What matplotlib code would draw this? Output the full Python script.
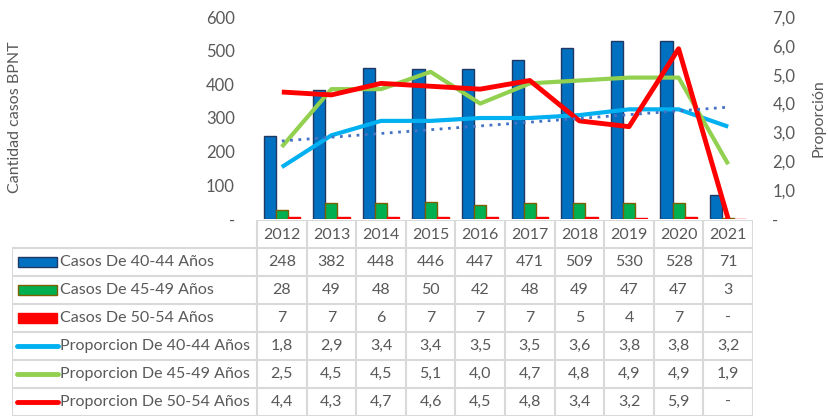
import numpy as np
import matplotlib
matplotlib.use("Agg")
import matplotlib.pyplot as plt
from matplotlib.patches import Rectangle
from matplotlib.lines import Line2D

years = ["2012", "2013", "2014", "2015", "2016", "2017", "2018", "2019", "2020", "2021"]
casos_40_44 = [248, 382, 448, 446, 447, 471, 509, 530, 528, 71]
casos_45_49 = [28, 49, 48, 50, 42, 48, 49, 47, 47, 3]
casos_50_54 = [7, 7, 6, 7, 7, 7, 5, 4, 7, 0]
prop_40_44 = [1.8, 2.9, 3.4, 3.4, 3.5, 3.5, 3.6, 3.8, 3.8, 3.2]
prop_45_49 = [2.5, 4.5, 4.5, 5.1, 4.0, 4.7, 4.8, 4.9, 4.9, 1.9]
prop_50_54 = [4.4, 4.3, 4.7, 4.6, 4.5, 4.8, 3.4, 3.2, 5.9, 0.0]

bar_labels = ["Casos De 40-44 Años", "Casos De 45-49 Años", "Casos De 50-54 Años"]
line_labels = ["Proporcion De 40-44 Años", "Proporcion De 45-49 Años", "Proporcion De 50-54 Años"]

plt.rcParams["font.family"] = ["Lato", "DejaVu Sans"]
txt = "#595959"
grid = "#D9D9D9"

bar_colors = ["#0070C0", "#00B050", "#FF0000"]
bar_edges = ["#1F3864", "#7F6000", "#FF0000"]
line_colors = ["#00B0F0", "#92D050", "#FF0000"]
line_widths = [3, 3, 3.5]

W, H = 829, 417
fig = plt.figure(figsize=(W / 100, H / 100), dpi=100)

x0, x1 = 257, 753
ytop, ybot = 17, 219
ax = fig.add_axes([x0 / W, (H - ybot) / H, (x1 - x0) / W, (ybot - ytop) / H])
ax2 = ax.twinx()

x = np.arange(len(years))
bw = 0.245
for i, (vals, c, e) in enumerate(zip([casos_40_44, casos_45_49, casos_50_54], bar_colors, bar_edges)):
    ax.bar(x + (i - 1) * bw, vals, bw, color=c, edgecolor=e, linewidth=1, zorder=2)

for vals, c, lw in zip([prop_40_44, prop_45_49, prop_50_54], line_colors, line_widths):
    ax2.plot(x, vals, color=c, lw=lw, solid_capstyle="butt", zorder=3)

# linear trend of Proporcion 40-44
coef = np.polyfit(x, prop_40_44, 1)
ax2.plot(x, np.polyval(coef, x), color="#4472C4", lw=2, linestyle=(0, (1, 2)), zorder=3)

ax.set_xlim(-0.5, len(years) - 0.5)
ax.set_ylim(0, 600)
ax2.set_ylim(0, 7)
ax.set_xticks([])
ax.set_yticks(range(0, 601, 100))
ax.set_yticklabels(["-" if v == 0 else str(v) for v in range(0, 601, 100)])
ax2.set_yticks(range(0, 8))
ax2.set_yticklabels(["-" if v == 0 else f"{v:.1f}".replace(".", ",") for v in range(0, 8)])
for a in (ax, ax2):
    for s in a.spines.values():
        s.set_visible(False)
    a.tick_params(length=0, labelsize=12, labelcolor=txt)
    a.patch.set_visible(False)
ax.tick_params(axis="y", pad=16)
ax2.tick_params(axis="y", pad=14)

fig.text(15 / W, 1 - 117 / H, "Cantidad casos BPNT", rotation=90, ha="center", va="center",
         fontsize=11.5, color=txt)
fig.text(819 / W, 1 - 118 / H, "Proporción", rotation=90, ha="center", va="center",
         fontsize=11.5, color=txt)

# data table
tx0, ty0, ty1 = 12, 220, 416
lab_w = (x0 - tx0) / ((x1 - x0) / len(years))
tab = fig.add_axes([tx0 / W, (H - ty1) / H, (x1 - tx0) / W, (ty1 - ty0) / H])
left = -0.5 - lab_w
right = len(years) - 0.5
tab.set_xlim(left, right)
tab.set_ylim(7, 0)
tab.axis("off")

lk = dict(color=grid, lw=1.5, solid_capstyle="butt")
tab.plot([-0.5, right], [0, 0], **lk)
for r in range(1, 8):
    tab.plot([left, right], [r, r], **lk)
for c in range(len(years) + 1):
    tab.plot([c - 0.5, c - 0.5], [0, 7], **lk)
tab.plot([left, left], [1, 7], **lk)

for c, y in enumerate(years):
    tab.text(c, 0.55, y, ha="center", va="center", fontsize=11.5, color=txt)

rows = [casos_40_44, casos_45_49, casos_50_54, prop_40_44, prop_45_49, prop_50_54]
labels = bar_labels + line_labels
for r, (vals, lab) in enumerate(zip(rows, labels)):
    yc = r + 1.5
    if r < 3:
        tab.add_patch(Rectangle((left + 0.13, yc - 0.17), 0.78, 0.34, facecolor=bar_colors[r],
                                edgecolor=bar_edges[r], lw=1))
    else:
        tab.add_line(Line2D([left + 0.1, left + 0.93], [yc, yc], color=line_colors[r - 3], lw=3.5,
                            solid_capstyle="round"))
    tab.text(left + 0.97, yc, lab, ha="left", va="center", fontsize=11.5, color=txt)
    for c, v in enumerate(vals):
        if v == 0:
            s = "-"
        elif r < 3:
            s = str(v)
        else:
            s = f"{v:.1f}".replace(".", ",")
        tab.text(c, yc, s, ha="center", va="center", fontsize=11.5, color=txt)

fig.savefig("out.png", dpi=100)
